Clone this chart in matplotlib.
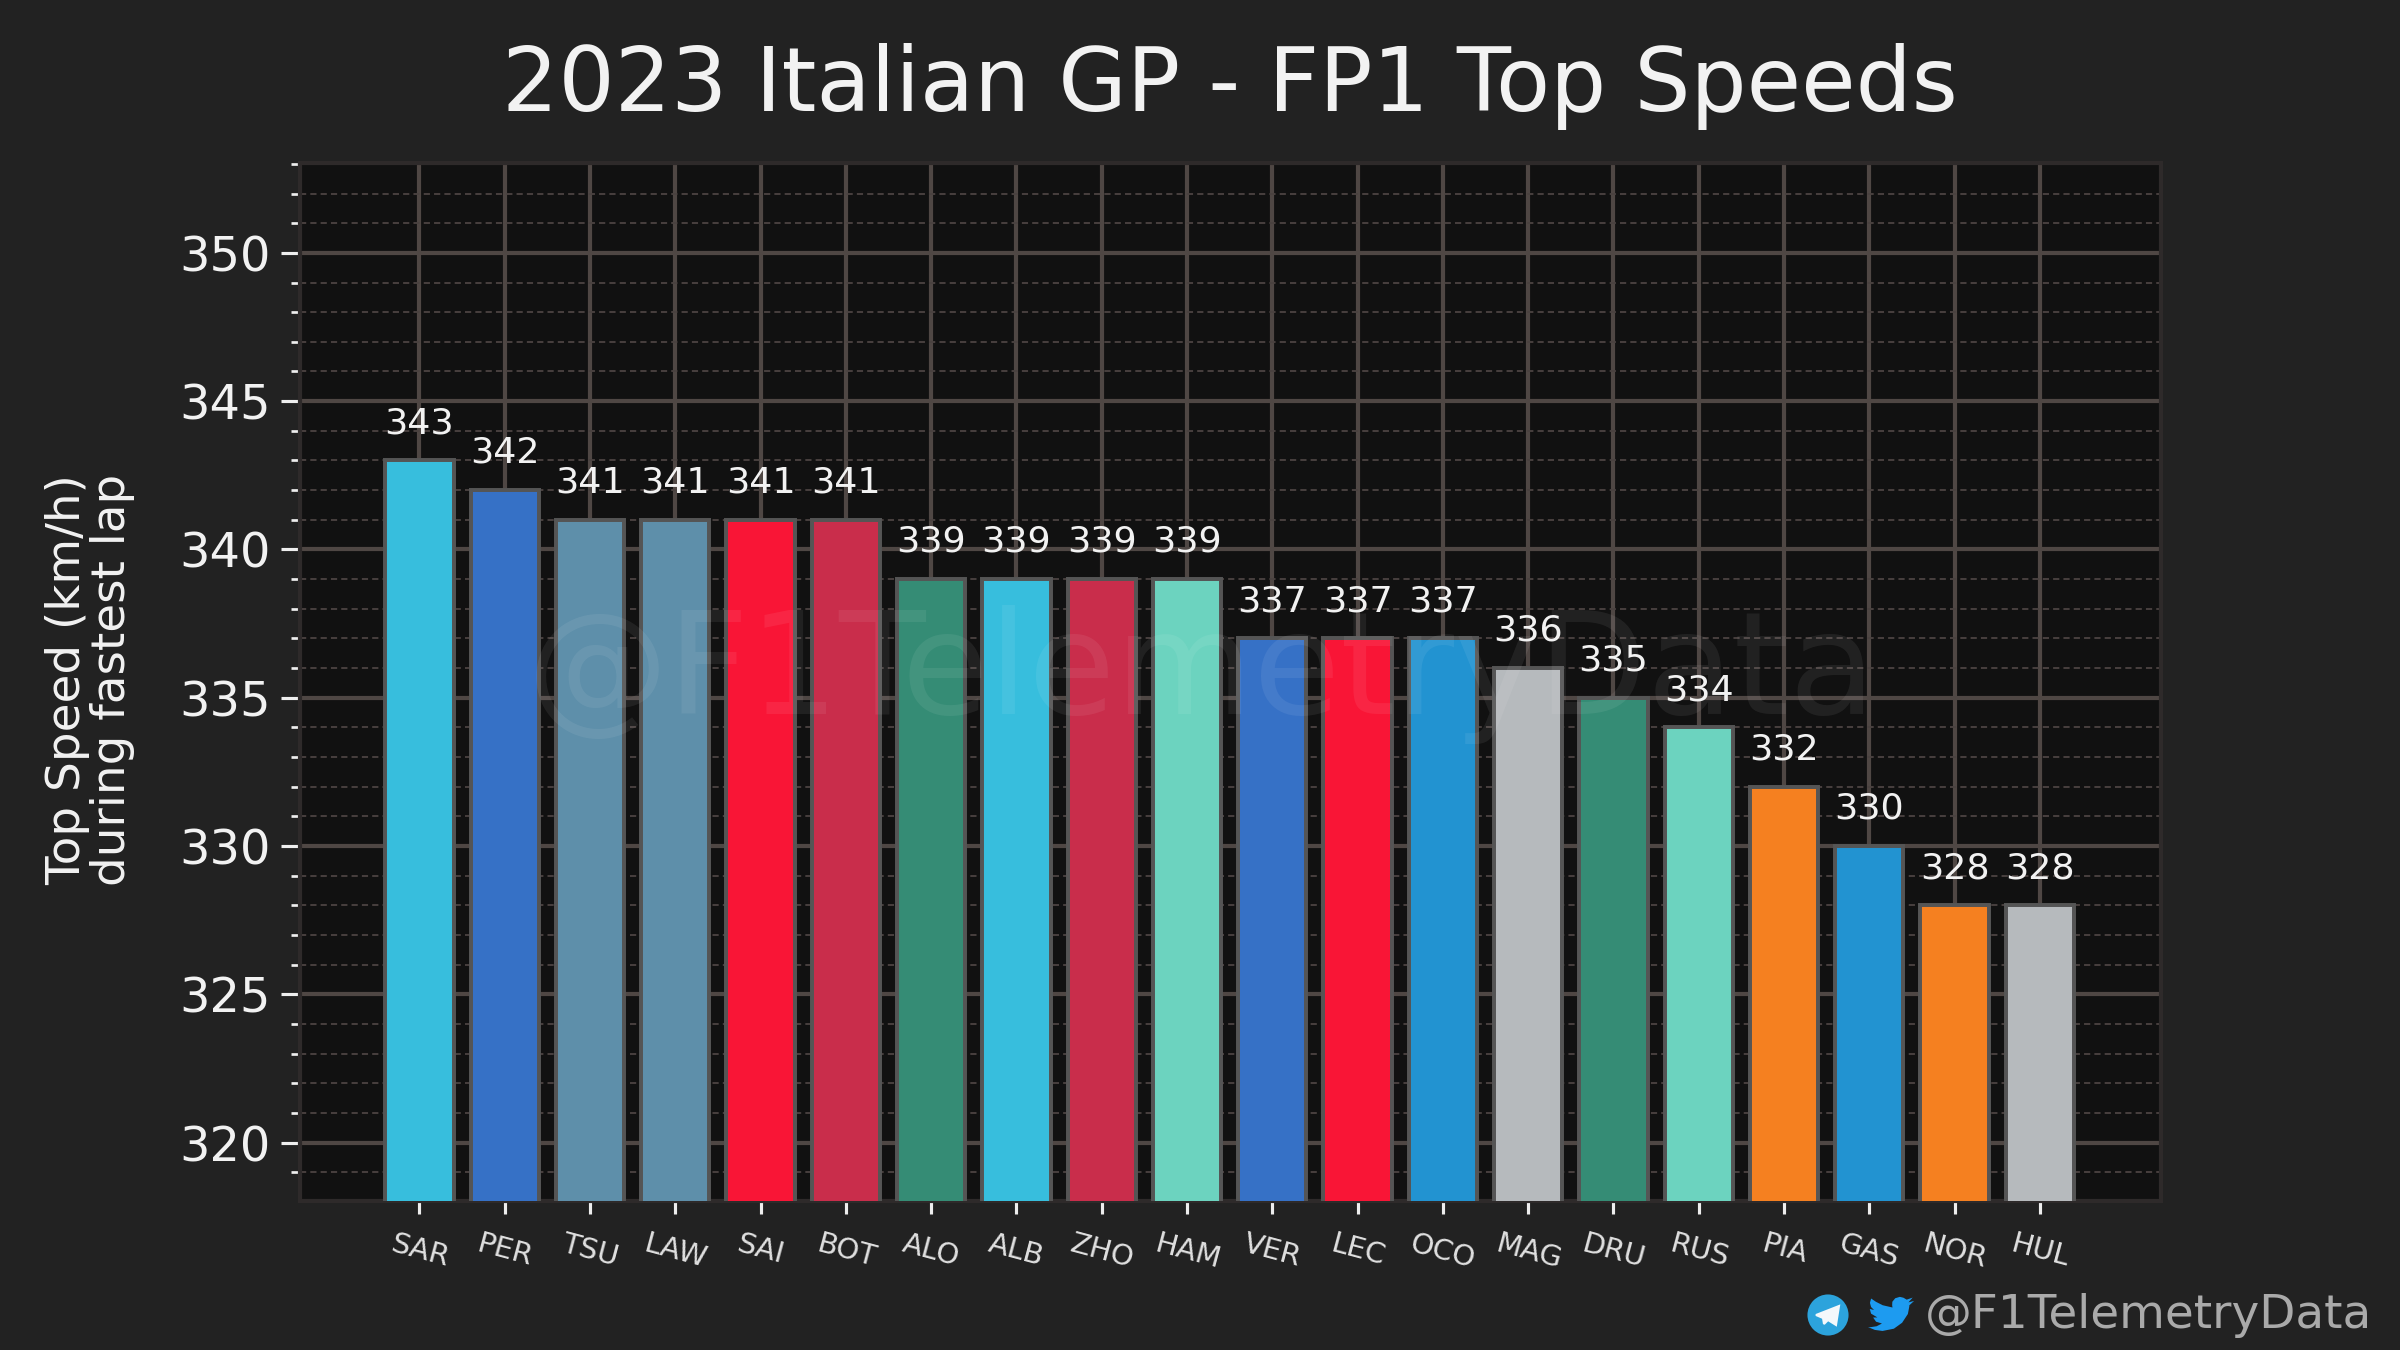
#!/usr/bin/env python
# 2023 Italian GP FP1 top speeds bar chart
import matplotlib
matplotlib.use('Agg')
import matplotlib.pyplot as plt
from matplotlib.patches import Circle, Polygon
from matplotlib.ticker import MultipleLocator

drivers = ['SAR', 'PER', 'TSU', 'LAW', 'SAI', 'BOT', 'ALO', 'ALB', 'ZHO', 'HAM',
           'VER', 'LEC', 'OCO', 'MAG', 'DRU', 'RUS', 'PIA', 'GAS', 'NOR', 'HUL']
speeds = [343, 342, 341, 341, 341, 341, 339, 339, 339, 339,
          337, 337, 337, 336, 335, 334, 332, 330, 328, 328]
colors = ['#37BEDD', '#3671C6', '#5E8FAA', '#5E8FAA', '#F91536', '#C92D4B', '#358C75',
          '#37BEDD', '#C92D4B', '#6CD3BF', '#3671C6', '#F91536', '#2293D1', '#B6BABD',
          '#358C75', '#6CD3BF', '#F58020', '#2293D1', '#F58020', '#B6BABD']

W, H = 2400, 1350
BG = '#222222'
plt.rcParams['font.family'] = ['DejaVu Sans']

fig = plt.figure(figsize=(16, 9), dpi=150, facecolor=BG)
ax = fig.add_axes([300 / W, 1 - 1201 / H, 1861 / W, 1038 / H], facecolor='#111111')

xpos = list(range(len(drivers)))
ax.bar(xpos, speeds, width=0.8, color=colors, edgecolor='#555555', linewidth=1.9, zorder=3)
for x, s in zip(xpos, speeds):
    ax.text(x, s + 0.92, str(s), ha='center', va='baseline', color='#f2f2f2', fontsize=17.5, zorder=5)

ax.set_xlim(-1.4, 20.42)
ax.set_ylim(318.03, 353.03)
ax.yaxis.set_major_locator(MultipleLocator(5))
ax.yaxis.set_minor_locator(MultipleLocator(1))
ax.set_xticks(xpos)
ax.set_xticklabels(drivers, rotation=-15, ha='center', fontsize=14, color='#e0e0e0')
ax.tick_params(axis='x', which='major', length=6, width=1.5, color='#eeeeee', pad=8)
ax.tick_params(axis='y', which='major', length=9, width=1.5, color='#eeeeee', labelsize=23,
               labelcolor='#f2f2f2', pad=5)
ax.tick_params(axis='y', which='minor', length=4.5, width=1.3, color='#eeeeee')

ax.set_axisbelow(True)
ax.grid(which='major', color='#4f4744', linewidth=2, zorder=1)
ax.grid(which='minor', axis='y', color='#4a4240', linewidth=0.9, linestyle=(0, (3.3, 2.2)), zorder=1)
for sp in ax.spines.values():
    sp.set_color('#2e2a2a')
    sp.set_linewidth(2)

fig.text(1230 / W, 1 - 86 / H, '2023 Italian GP - FP1 Top Speeds', ha='center', va='center',
         color='#f2f2f2', fontsize=42.5)
fig.text(90 / W, 1 - 680 / H, 'Top Speed (km/h)\nduring fastest lap', rotation=90, ha='center',
         va='center', color='#f2f2f2', fontsize=22.5, linespacing=1.0)

# watermark sits over the bars
fig.text(1202 / W, 1 - 674 / H, '@F1TelemetryData', ha='center', va='center', color='white',
         alpha=0.07, fontsize=68, zorder=10)

# handle + logos, overlay axes in pixel coords
ov = fig.add_axes([0, 0, 1, 1], facecolor='none', zorder=20)
ov.set_xlim(0, W)
ov.set_ylim(H, 0)
ov.axis('off')
ov.text(2372, 1316, '@F1TelemetryData', ha='right', va='center', color='#aaaaaa', fontsize=22.5)

ov.add_patch(Circle((1828, 1315), 19.5, color='#2CA3DC'))
ov.add_patch(Polygon([(1816, 1315), (1839, 1306), (1836, 1325), (1828, 1320), (1824, 1324), (1823, 1318)],
                     closed=True, color='#f4f8fb'))

bird = [(23.95, 4.57), (21.1, 5.35), (23.3, 2.62), (20.2, 3.8), (18.5, 2.7), (16.6, 2.2), (14.2, 3.0),
        (12.7, 5.0), (12.6, 7.0), (12.78, 8.29), (7.7, 7.0), (4.1, 5.0), (1.64, 3.16), (1.0, 5.6), (1.6, 8.0),
        (3.16, 9.73), (0.93, 9.12), (1.6, 11.8), (4.88, 13.94), (2.67, 14.02), (4.2, 16.4), (7.27, 17.44),
        (4.5, 19.0), (1.17, 19.55), (0.0, 19.48), (3.6, 21.1), (7.56, 21.69), (13.5, 20.4), (17.8, 17.0),
        (20.8, 12.0), (21.55, 7.7), (21.54, 7.07), (24.0, 4.59)]
ov.add_patch(Polygon([(1868 + px * 46 / 24, 1293 + py * 42 / 24) for px, py in bird], closed=True,
                     color='#1D9BF0', linewidth=0))

fig.savefig('out.png', dpi=150, facecolor=BG)
